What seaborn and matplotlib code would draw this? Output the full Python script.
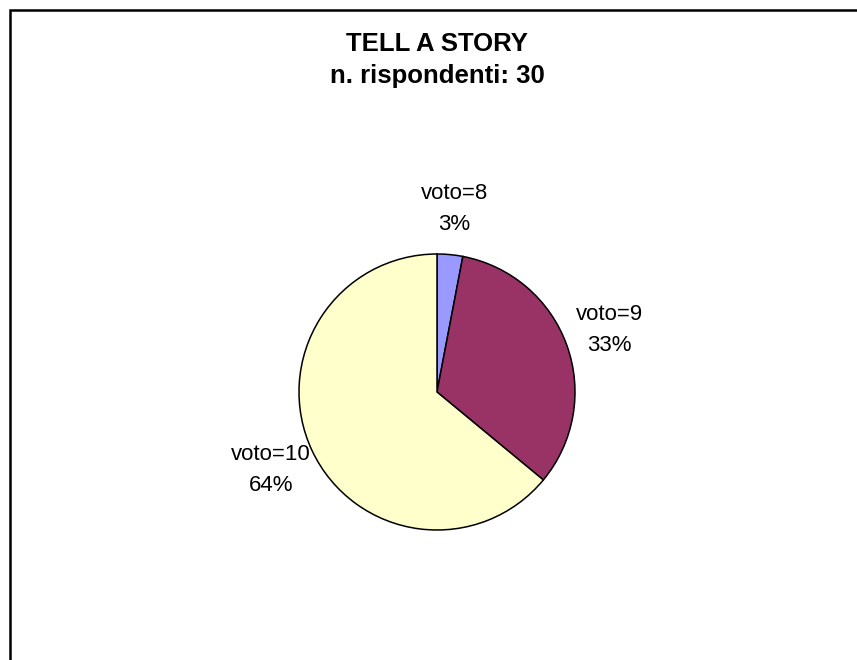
import matplotlib.pyplot as plt
import matplotlib.patches as mpatches
import seaborn as sns

# data
categories = ["voto=8", "voto=9", "voto=10"]
percent = [3, 33, 64]
colors = ["#9999FF", "#993366", "#FFFFCC"]

title = "TELL A STORY"
subtitle = "n. rispondenti: 30"

sns.set_style("white")
plt.rcParams["font.family"] = ["Liberation Sans", "DejaVu Sans"]

W, H = 857, 660
fig = plt.figure(figsize=(W / 100, H / 100), dpi=100)

# outer frame (runs off the right and bottom edges like the original)
fig.patches.append(mpatches.Rectangle((9.5 / W, -0.1), 1.2, 1.1 - 10.5 / H,
                                      transform=fig.transFigure, fill=False,
                                      edgecolor="black", linewidth=1.8))

# pie axes: centre at (437, 392) px, radius ~138 px
cx, cy, r = 437, H - 392, 138
half = 220
ax = fig.add_axes([(cx - half) / W, (cy - half) / H, 2 * half / W, 2 * half / H])

labels = [f"{c}\n{p}%" for c, p in zip(categories, percent)]
wedges, texts = ax.pie(
    percent,
    labels=labels,
    colors=colors,
    startangle=90,
    counterclock=False,
    labeldistance=1.33,
    wedgeprops=dict(edgecolor="black", linewidth=1.1),
    textprops=dict(fontsize=16, color="black", linespacing=1.6),
)
for t in texts:
    t.set_horizontalalignment("center")
    t.set_verticalalignment("center")

lim = half / r
ax.set_xlim(-lim, lim)
ax.set_ylim(-lim, lim)
ax.set_aspect("equal")
ax.axis("off")

fig.text(cx / W, 1 - 44 / H, title, ha="center", va="center",
         fontsize=18.5, fontweight="bold", color="black")
fig.text(cx / W, 1 - 76 / H, subtitle, ha="center", va="center",
         fontsize=18.5, fontweight="bold", color="black")

fig.savefig("out.png", dpi=100)
